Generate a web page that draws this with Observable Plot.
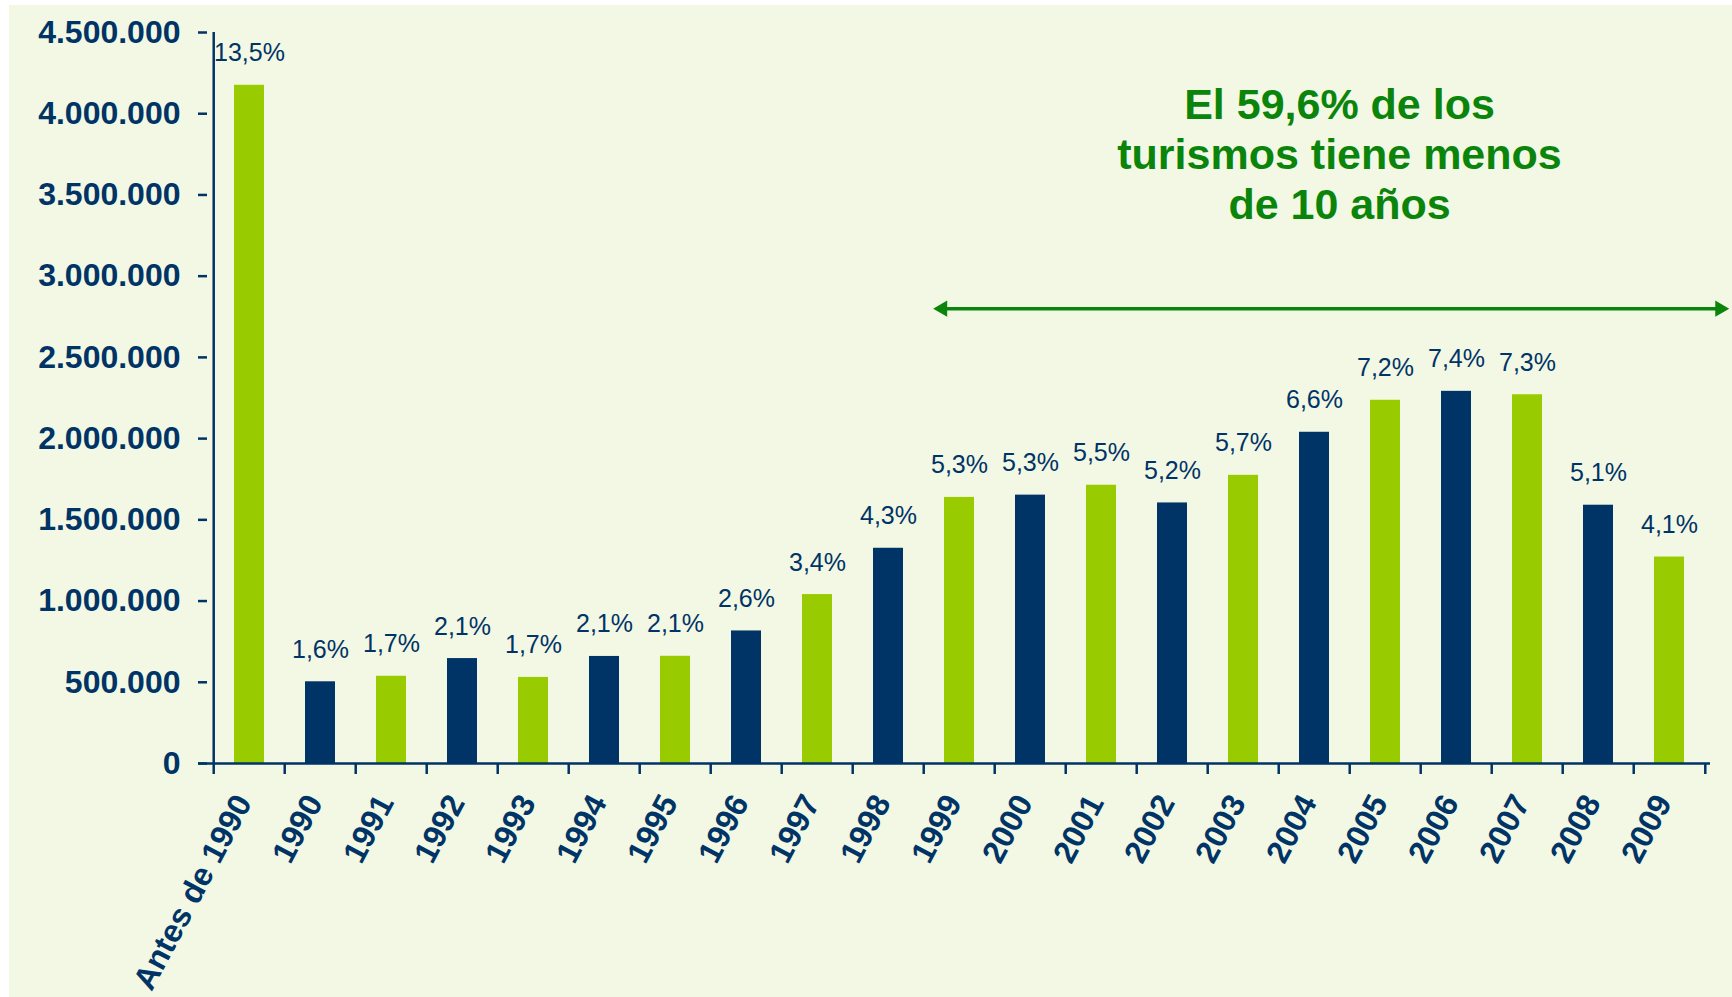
<!DOCTYPE html>
<html>
<head>
<meta charset="utf-8">
<script src="https://cdn.jsdelivr.net/npm/d3@7"></script>
<script src="https://cdn.jsdelivr.net/npm/@observablehq/plot@0.6"></script>
<style>
html, body { margin: 0; padding: 0; background: #ffffff; }
#bg { position: absolute; left: 9px; top: 5px; width: 1723px; height: 992px; background: #F2F8E3; }
#chart { position: absolute; left: 0; top: 0; }
</style>
</head>
<body>
<div id="bg"></div>
<div id="chart"></div>
<script>
// ---- data ----
const categories = ["Antes de 1990", "1990", "1991", "1992", "1993", "1994", "1995", "1996", "1997", "1998", "1999",
  "2000", "2001", "2002", "2003", "2004", "2005", "2006", "2007", "2008", "2009"];
const values = [4175000, 503000, 537000, 646000, 530000, 659000, 660000, 816000, 1040000, 1325000, 1638000,
  1652000, 1713000, 1604000, 1774000, 2039000, 2236000, 2291000, 2270000, 1590000, 1271000];
const shares = ["13,5%", "1,6%", "1,7%", "2,1%", "1,7%", "2,1%", "2,1%", "2,6%", "3,4%", "4,3%", "5,3%",
  "5,3%", "5,5%", "5,2%", "5,7%", "6,6%", "7,2%", "7,4%", "7,3%", "5,1%", "4,1%"];
const yTicks = [0, 500000, 1000000, 1500000, 2000000, 2500000, 3000000, 3500000, 4000000, 4500000];
const noteText = "El 59,6% de los\nturismos tiene menos\nde 10 años";
const noteCategory = "2004";
const noteValue = 3760000;
const arrowFrom = "1999";
const arrowTo = "2009";
const arrowValue = 2800000;

// ---- styles ----
const NAVY = "#003366", GREEN = "#99CC00", NOTE = "#0A840A";
const FONT = "'Liberation Sans', Arial, Helvetica, sans-serif";
const W = 1732, H = 997, mL = 207, mR = 22, mT = 32, mB = 234;
const step = (W - mL - mR) / categories.length;

const data = categories.map((c, i) => ({cat: c, value: values[i], share: shares[i], fill: i % 2 ? NAVY : GREEN}));
const fmt = d3.formatLocale({decimal: ",", thousands: ".", grouping: [3], currency: ["", "€"]}).format(",d");

const chart = Plot.plot({
  width: W, height: H,
  marginLeft: mL, marginRight: mR, marginTop: mT, marginBottom: mB,
  style: {background: "transparent", fontFamily: FONT, color: NAVY, overflow: "visible"},
  x: {domain: categories, paddingInner: 0.58, paddingOuter: 0.29, label: null},
  y: {domain: [0, 4500000], label: null},
  color: {type: "identity"},
  marks: [
    Plot.barY(data, {x: "cat", y: "value", fill: "fill"}),
    Plot.text(data, {x: "cat", y: "value", text: "share", dy: -32, fontSize: 25, fill: NAVY}),
    // axes
    Plot.ruleY([0], {stroke: NAVY, strokeWidth: 2.5, insetLeft: -9}),
    Plot.ruleX([categories[0]], {y1: 0, y2: 4500000, dx: -step / 2, stroke: NAVY, strokeWidth: 2.5}),
    Plot.axisY(yTicks, {tickFormat: fmt, tickSize: 9, tickPadding: 18, fontSize: 32, fontWeight: "bold",
      color: NAVY, strokeWidth: 2.5, label: null}),
    Plot.axisX({tickSize: 11, tickFormat: () => "", dx: -step / 2, color: NAVY, strokeWidth: 2.5, label: null}),
    Plot.axisX([categories[categories.length - 1]], {tickSize: 11, tickFormat: () => "", dx: step / 2,
      color: NAVY, strokeWidth: 2.5, label: null}),
    Plot.axisX({tickSize: 0, tickPadding: 34, tickRotate: -62, fontSize: 32, fontWeight: "bold", color: NAVY,
      dx: -6, label: null}),
    // annotation
    Plot.text([noteText], {x: () => noteCategory, y: () => noteValue, text: d => d, dx: 25, fontSize: 43,
      fontWeight: "bold", fill: NOTE, lineHeight: 1.17}),
    Plot.ruleY([arrowValue], {x1: () => arrowFrom, x2: () => arrowTo, insetLeft: -1.5, insetRight: -32,
      stroke: NOTE, strokeWidth: 3.5}),
    Plot.dot([arrowValue], {x: () => arrowFrom, y: d => d, symbol: "triangle", r: 6, rotate: -90, dx: -17,
      fill: NOTE, stroke: "none"}),
    Plot.dot([arrowValue], {x: () => arrowTo, y: d => d, symbol: "triangle", r: 6, rotate: 90, dx: 50.4,
      fill: NOTE, stroke: "none"})
  ]
});
document.getElementById("chart").append(chart);
</script>
</body>
</html>
